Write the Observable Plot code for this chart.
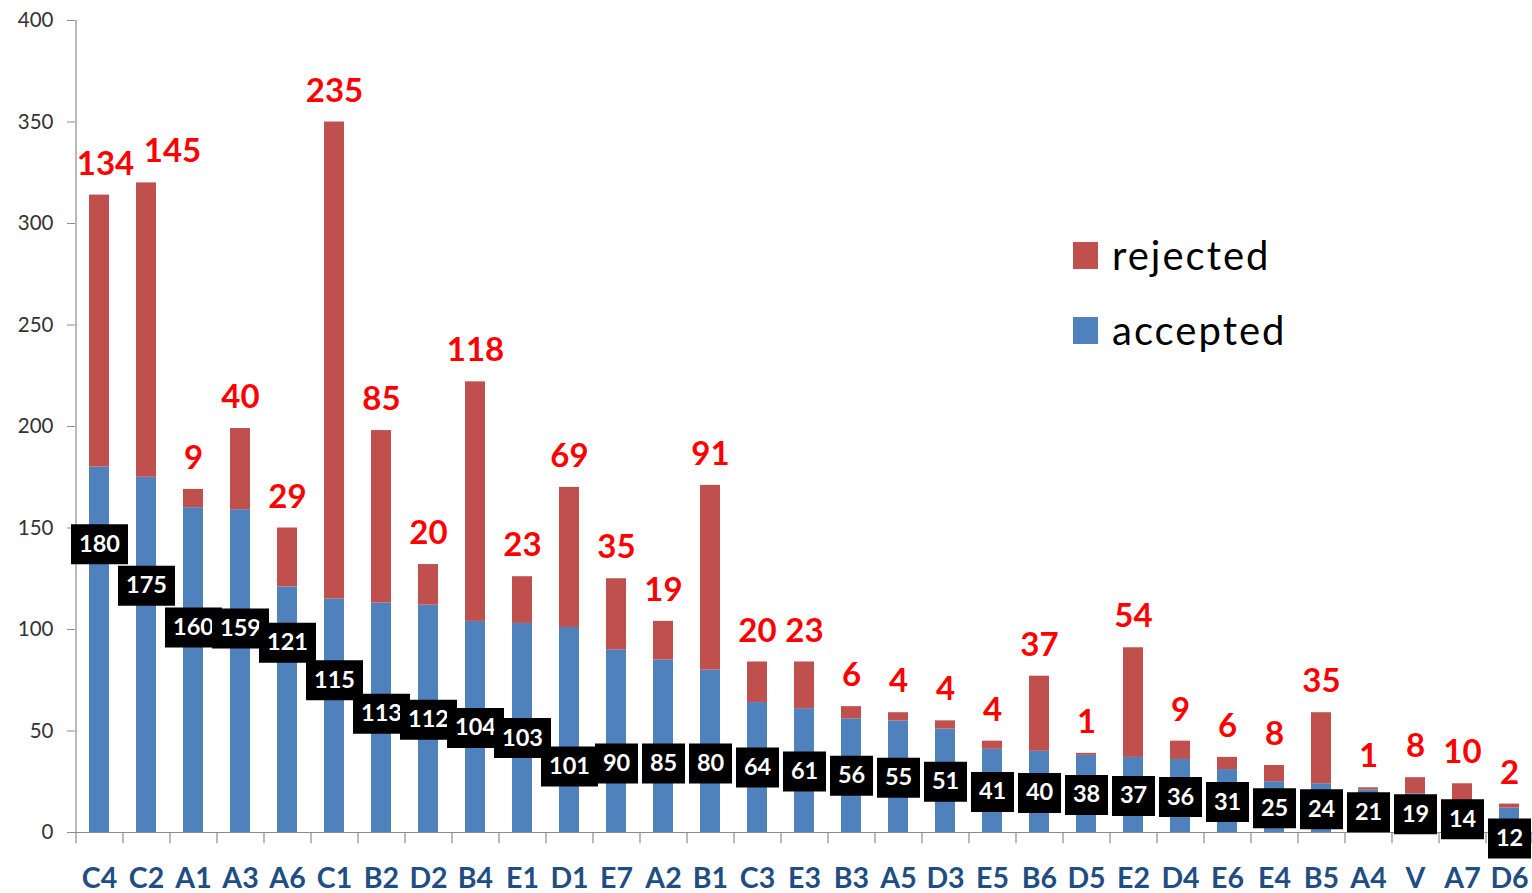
<!DOCTYPE html>
<html><head><meta charset="utf-8">
<script src="https://cdn.jsdelivr.net/npm/d3@7"></script>
<script src="https://cdn.jsdelivr.net/npm/@observablehq/plot@0.6"></script>
<style>
body{margin:0;background:#fff;}
#wrap{position:relative;width:1532px;height:893px;font-family:Lato,"Noto Sans",sans-serif;}
#wrap svg{overflow:visible;}
.lg{position:absolute;left:1073px;display:flex;align-items:center;font-size:40px;letter-spacing:2px;color:#000;}
.lg .sw{width:25px;height:27px;margin-right:14px;}
</style></head><body><div id="wrap"></div>
<script>
const categories = ["C4","C2","A1","A3","A6","C1","B2","D2","B4","E1","D1","E7","A2","B1","C3","E3","B3","A5","D3","E5","B6","D5","E2","D4","E6","E4","B5","A4","V","A7","D6"];
const accepted = [180,175,160,159,121,115,113,112,104,103,101,90,85,80,64,61,56,55,51,41,40,38,37,36,31,25,24,21,19,14,12];
const rejected = [134,145,9,40,29,235,85,20,118,23,69,35,19,91,20,23,6,4,4,4,37,1,54,9,6,8,35,1,8,10,2];
// where the black "accepted" labels sit (in y-axis units), as placed in the original
const acceptedLabelAt = [142,121.5,101,100.5,93.5,75,58.5,55.5,51.5,46.5,32.5,34,34,34,32,30,28,27,25,20,19.5,18.5,18,17.5,15,12,11.5,10,9,6.5,-3];
const yTicks = [0,50,100,150,200,250,300,350,400];
const seriesNames = ["rejected","accepted"];
const seriesColors = ["#C0504D","#4F81BD"];

const W = 1532, H = 893, ML = 75, MR = 0, MT = 20, MB = 61;
const step = (W - ML - MR) / categories.length;
const axisGray = "#8c8c8c";

const rows = categories.flatMap((c, i) => [
  {cat: c, series: "accepted", value: accepted[i]},
  {cat: c, series: "rejected", value: rejected[i]}
]);
const labels = categories.map((c, i) => ({cat: c, acc: accepted[i], rej: rejected[i], total: accepted[i] + rejected[i], at: acceptedLabelAt[i]}));

const boxSymbol = (w, h) => ({draw(ctx) {
  ctx.moveTo(-w/2, -h/2); ctx.lineTo(w/2, -h/2); ctx.lineTo(w/2, h/2); ctx.lineTo(-w/2, h/2); ctx.closePath();
}});

const rejShift = {C4: 6, C2: 26};

const accMarks = labels.flatMap(d => [
  Plot.dot([d], {x: "cat", y: "at", symbol: boxSymbol(String(d.acc).length > 2 ? 57 : 43, 40), fill: "#000"}),
  Plot.text([d], {x: "cat", y: "at", text: d => String(d.acc), fill: "#fff", fontSize: 23.5, fontWeight: 700})
]);

const redText = {x: "cat", y: "total", text: d => String(d.rej), dy: -31, fill: "#ff0000", fontSize: 33, fontWeight: 700};

const chart = Plot.plot({
  width: W, height: H,
  marginLeft: ML, marginRight: MR, marginTop: MT, marginBottom: MB,
  style: {fontFamily: "Lato, 'Noto Sans', sans-serif", background: "#fff", overflow: "visible"},
  x: {domain: categories, paddingInner: 0.585, paddingOuter: 0.2925, label: null},
  y: {domain: [0, 400], label: null},
  color: {domain: seriesNames, range: seriesColors},
  marks: [
    Plot.barY(rows, Plot.stackY({x: "cat", y: "value", fill: "series"})),
    Plot.ruleY([0], {stroke: axisGray, strokeWidth: 1.2}),
    Plot.ruleX(categories, {x: d => d, dx: -step/2, y1: 0, y2: -5.6, stroke: axisGray, strokeWidth: 1.2}),
    Plot.ruleX([categories[categories.length - 1]], {x: d => d, dx: step/2 - 1, y1: 0, y2: -5.6, stroke: axisGray, strokeWidth: 1.2}),
    Plot.ruleX([categories[0]], {x: d => d, dx: -step/2, y1: 0, y2: 400, stroke: axisGray, strokeWidth: 1.2}),
    Plot.axisY({ticks: yTicks, tickSize: 8, tickPadding: 14, fontSize: 20.5, fill: "#333", stroke: axisGray, label: null}),
    Plot.axisX({tickSize: 0, tickPadding: 35, fontSize: 28.5, fontWeight: 700, fill: "#1f4e84", label: null}),
    ...accMarks,
    Plot.text(labels, {...redText, filter: d => !(d.cat in rejShift)}),
    ...Object.entries(rejShift).map(([c, s]) => Plot.text(labels.filter(d => d.cat === c), {...redText, dx: s}))
  ]
});

const wrap = document.getElementById("wrap");
wrap.appendChild(chart);
const tops = [243, 318];
seriesNames.forEach((name, i) => {
  const it = document.createElement("div");
  it.className = "lg";
  it.style.top = (tops[i] - 12) + "px";
  it.innerHTML = `<div class="sw" style="background:${seriesColors[i]}"></div><span>${name}</span>`;
  wrap.appendChild(it);
});
</script></body></html>
